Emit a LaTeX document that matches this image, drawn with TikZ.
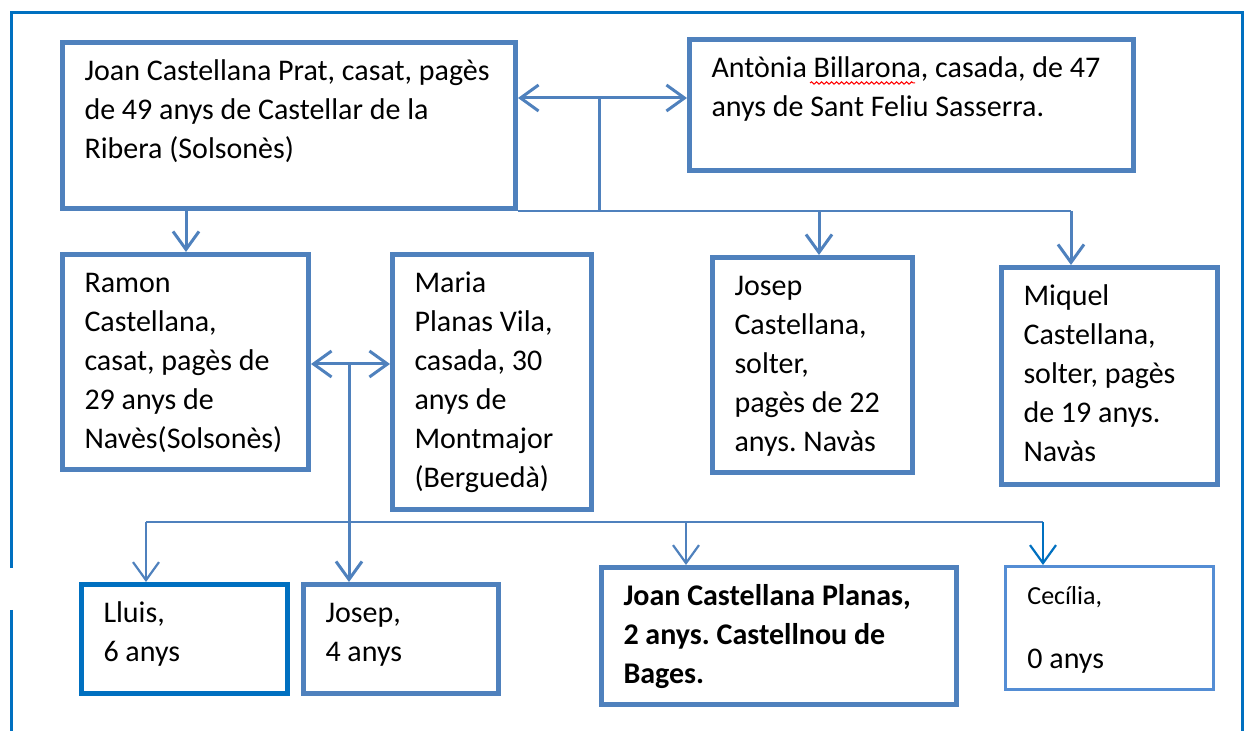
\documentclass[tikz,border=0pt]{standalone}
\usepackage{fontspec}
\setmainfont{Carlito}
\usetikzlibrary{arrows.meta,positioning,decorations.pathmorphing}
\definecolor{boxblue}{RGB}{79,129,189}
\definecolor{frameblue}{RGB}{0,112,192}
\definecolor{cecblue}{RGB}{84,141,212}
\newcommand{\persontext}[3]{\parbox[c][#2][t]{#1}{\frenchspacing\vspace*{5.3pt}\begin{tabular}[t]{@{}l@{}}#3\end{tabular}}}

\begin{document}
\begin{tikzpicture}[x=0.5pt, y=-0.5pt,
    >={Straight Barb[length=9pt,width=13pt]},
    person/.style={draw=boxblue, line width=2.5pt, inner xsep=11pt, inner ysep=0pt, anchor=north west, font=\fontsize{15}{19.5}\selectfont},
    frame/.style={draw=frameblue, line width=1.5pt},
    link/.style={draw=boxblue, line width=1.5pt},
    thinlink/.style={draw=boxblue, line width=1.1pt},
    arrow/.style={link,->}]

    \useasboundingbox (0,0) rectangle (1248,731);
    \draw[frame] (11,568) -- (11,13) -- (1242,13) -- (1242,731);
    \draw[frame] (11,610) -- (11,731);

    \node[person] (joan) at (60,40) {\persontext{204.5pt}{83pt}{Joan Castellana Prat, casat, pagès\\ de 49 anys de Castellar de la\\ Ribera (Solsonès)}};
    \node[person] (antonia) at (687,37) {\persontext{200pt}{65.5pt}{Antònia Billarona, casada, de 47\\ anys de Sant Feliu Sasserra.}};
    \node[person] (ramon) at (60,252) {\persontext{101pt}{107.5pt}{Ramon\\ Castellana,\\ casat, pagès de\\ 29 anys de\\ Navès(Solsonès)}};
    \node[person] (maria) at (390,252) {\persontext{77.5pt}{127.5pt}{Maria\\ Planas Vila,\\ casada, 30\\ anys de\\ Montmajor\\ (Berguedà)}};
    \node[person] (josepg) at (710,255) {\persontext{78pt}{107.5pt}{Josep\\ Castellana,\\ solter,\\ pagès de 22\\ anys. Navàs}};
    \node[person] (miquel) at (999,265) {\persontext{86pt}{108.5pt}{Miquel\\ Castellana,\\ solter, pagès\\ de 19 anys.\\ Navàs}};
    \node[person, draw=frameblue] (lluis) at (79,582) {\persontext{81pt}{54.5pt}{Lluis,\\ 6 anys}};
    \node[person] (josepp) at (301,582) {\persontext{75.5pt}{54.5pt}{Josep,\\ 4 anys}};
    \node[person, font=\fontsize{15}{19.5}\selectfont\bfseries] (joanp) at (599,565) {\persontext{155.5pt}{68.5pt}{Joan Castellana Planas,\\ 2 anys. Castellnou de\\ Bages.}};
    \node[person, draw=cecblue, line width=1.4pt] (cecilia) at (1004,565) {\persontext{82pt}{61.5pt}{{\fontsize{13}{19.5}\selectfont Cecília,}\\[12.5pt] 0 anys}};

    % spell-check mark under Billarona
    \draw[red, line width=0.5pt, decorate, decoration={snake, amplitude=0.6pt, segment length=2.5pt}] (810,83) -- (915,83);

    % first generation
    \coordinate (wed1) at (599,98);
    \coordinate (tomiquel) at (1071,0);
    \coordinate (toramon) at (186,0);
    \coordinate (tojosep) at (819,0);
    \draw[link,<->] (wed1 -| joan.east) -- (wed1 -| antonia.west);
    \draw[link] (wed1) -- (wed1 |- joan.south);
    \draw[thinlink] (joan.south east) -- (tomiquel |- joan.south);
    \draw[arrow] (tomiquel |- joan.south) -- (tomiquel |- miquel.north);
    \draw[arrow] (tojosep |- joan.south) -- (tojosep |- josepg.north);
    \draw[arrow] (toramon |- joan.south) -- (toramon |- ramon.north);

    % second generation
    \coordinate (wed2) at (349,364);
    \coordinate (kids2) at (146,522);
    \coordinate (kids2end) at (1043,522);
    \coordinate (tojoan) at (686,0);
    \draw[link,<->] (wed2 -| ramon.east) -- (wed2 -| maria.west);
    \draw[arrow] (wed2) -- (wed2 |- josepp.north);
    \draw[thinlink] (kids2) -- (kids2end);
    \draw[thinlink,->] (kids2) -- (kids2 |- lluis.north);
    \draw[thinlink,->] (tojoan |- kids2) -- (tojoan |- joanp.north);
    \draw[thinlink,->,draw=frameblue] (kids2end) -- (kids2end |- cecilia.north);
\end{tikzpicture}
\end{document}
